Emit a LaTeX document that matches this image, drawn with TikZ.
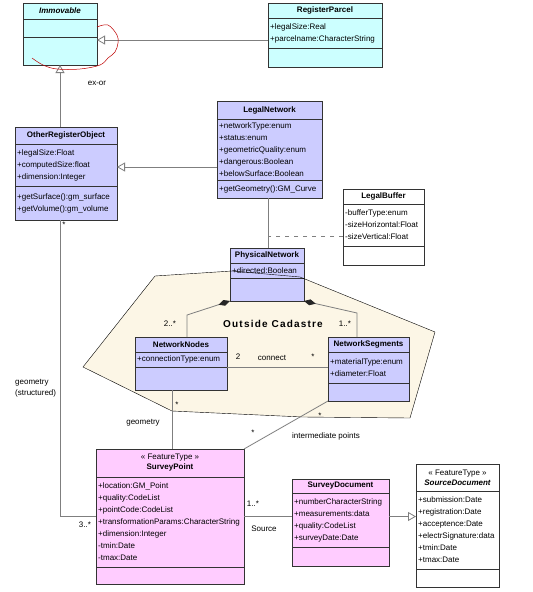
\documentclass[tikz,border=0pt]{standalone}
\usepackage{fontspec}
\setmainfont{Liberation Sans}
\usetikzlibrary{arrows.meta,calc}
\definecolor{cyanbox}{HTML}{CCFFFF}
\definecolor{lavbox}{HTML}{CCCCFF}
\definecolor{pinkbox}{HTML}{FFCCFF}
\definecolor{cream}{HTML}{FCF6E6}
\definecolor{linegray}{HTML}{7F7F7F}

\begin{document}
\begin{tikzpicture}
[x=1pt,y=-1pt,
 cls/.style={draw=black!80,anchor=north west,inner sep=0pt,outer sep=0pt},
 sep/.style={draw=black!80},
 title/.style={font=\fontsize{8}{10}\selectfont\bfseries,inner sep=0pt},
 attr/.style={anchor=west,align=left,inner sep=0pt,font=\fontsize{8}{12}\selectfont},
 lbl/.style={inner sep=0pt,font=\fontsize{8}{11}\selectfont},
 assoc/.style={draw=linegray,line width=0.8pt},
 gen/.style={assoc,-{Triangle[open,length=8pt,width=9pt,fill=white]}},
 comp/.style={assoc,{Diamond[length=12pt,width=6pt,fill=black!85,color=black!85]}-}]
\useasboundingbox (0,0) rectangle (533,592);
\fill[white] (0,0) rectangle (533,592);
% outside cadastre area
\fill[cream] (155,276) -- (232,271) -- (300,277) -- (435,332) -- (410,418)
  -- (303,417) -- (172,411) -- (83,367) -- cycle;
% classes
\node[cls,fill=cyanbox,minimum width=74pt,minimum height=62pt] (immov) at (23,3) {};
\node[cls,fill=cyanbox,minimum width=114pt,minimum height=64pt] (parcel) at (268,3) {};
\node[cls,fill=lavbox,minimum width=102pt,minimum height=93pt] (other) at (15,127) {};
\node[cls,fill=lavbox,minimum width=105pt,minimum height=97pt] (legalnet) at (217,101) {};
\node[cls,fill=white,minimum width=81pt,minimum height=76pt] (buffer) at (343,189) {};
\node[cls,fill=lavbox,minimum width=74pt,minimum height=53pt] (phys) at (230,248) {};
\node[cls,fill=lavbox,minimum width=92pt,minimum height=53pt] (nodes) at (135,337) {};
\node[cls,fill=lavbox,minimum width=81pt,minimum height=64pt] (segs) at (328,337) {};
\node[cls,fill=pinkbox,minimum width=148pt,minimum height=135pt] (survpt) at (96,449) {};
\node[cls,fill=pinkbox,minimum width=97pt,minimum height=87pt] (survdoc) at (292,479) {};
\node[cls,fill=white,minimum width=83pt,minimum height=123pt] (srcdoc) at (416,464) {};
% compartments
\draw[sep] ($(immov.north west)+(0,16)$) -- ($(immov.north east)+(0,16)$);
\draw[sep] ($(immov.north west)+(0,34)$) -- ($(immov.north east)+(0,34)$);
\draw[sep] ($(parcel.north west)+(0,15)$) -- ($(parcel.north east)+(0,15)$);
\draw[sep] ($(parcel.north west)+(0,45)$) -- ($(parcel.north east)+(0,45)$);
\draw[sep] ($(other.north west)+(0,17)$) -- ($(other.north east)+(0,17)$);
\draw[sep] ($(other.north west)+(0,59)$) -- ($(other.north east)+(0,59)$);
\draw[sep] ($(legalnet.north west)+(0,18)$) -- ($(legalnet.north east)+(0,18)$);
\draw[sep] ($(legalnet.north west)+(0,79)$) -- ($(legalnet.north east)+(0,79)$);
\draw[sep] ($(buffer.north west)+(0,15)$) -- ($(buffer.north east)+(0,15)$);
\draw[sep] ($(buffer.north west)+(0,57)$) -- ($(buffer.north east)+(0,57)$);
\draw[sep] ($(phys.north west)+(0,15)$) -- ($(phys.north east)+(0,15)$);
\draw[sep] ($(phys.north west)+(0,30)$) -- ($(phys.north east)+(0,30)$);
\draw[sep] ($(nodes.north west)+(0,15)$) -- ($(nodes.north east)+(0,15)$);
\draw[sep] ($(nodes.north west)+(0,30)$) -- ($(nodes.north east)+(0,30)$);
\draw[sep] ($(segs.north west)+(0,15)$) -- ($(segs.north east)+(0,15)$);
\draw[sep] ($(segs.north west)+(0,46)$) -- ($(segs.north east)+(0,46)$);
\draw[sep] ($(survpt.north west)+(0,28)$) -- ($(survpt.north east)+(0,28)$);
\draw[sep] ($(survpt.north west)+(0,118)$) -- ($(survpt.north east)+(0,118)$);
\draw[sep] ($(survdoc.north west)+(0,14)$) -- ($(survdoc.north east)+(0,14)$);
\draw[sep] ($(survdoc.north west)+(0,68)$) -- ($(survdoc.north east)+(0,68)$);
\draw[sep] ($(srcdoc.north west)+(0,27)$) -- ($(srcdoc.north east)+(0,27)$);
\draw[sep] ($(srcdoc.north west)+(0,105)$) -- ($(srcdoc.north east)+(0,105)$);
% names
\node[title] at ($(immov.north)+(0,8)$) {\itshape Immovable};
\node[title] at ($(parcel.north)+(0,7.5)$) {RegisterParcel};
\node[title] at ($(other.north)+(0,8.5)$) {OtherRegisterObject};
\node[title] at ($(legalnet.north)+(0,9)$) {LegalNetwork};
\node[title] at ($(buffer.north)+(0,7.5)$) {LegalBuffer};
\node[title] at ($(phys.north)+(0,7.5)$) {PhysicalNetwork};
\node[title] at ($(nodes.north)+(0,7.5)$) {NetworkNodes};
\node[title] at ($(segs.north)+(0,7.5)$) {NetworkSegments};
\node[title,align=center] at ($(survpt.north)+(0,14)$) {\mdseries\guillemotleft\ FeatureType \guillemotright\\SurveyPoint};
\node[title] at ($(survdoc.north)+(0,7)$) {SurveyDocument};
\node[title,align=center] at ($(srcdoc.north)+(0,13.5)$) {\mdseries\guillemotleft\ FeatureType \guillemotright\\\itshape SourceDocument};
% attributes and operations
\node[attr] at ($(parcel.north west)+(2,30)$) {+legalSize:Real\\+parcelname:CharacterString};
\node[attr] at ($(other.north west)+(2,38)$) {+legalSize:Float\\+computedSize:float\\+dimension:Integer};
\node[attr] at ($(other.north west)+(2,76)$) {+getSurface():gm\_surface\\+getVolume():gm\_volume};
\node[attr] at ($(legalnet.north west)+(2,48.5)$) {+networkType:enum\\+status:enum\\+geometricQuality:enum\\+dangerous:Boolean\\+belowSurface:Boolean};
\node[attr] at ($(legalnet.north west)+(2,88)$) {+getGeometry():GM\_Curve};
\node[attr] at ($(buffer.north west)+(2,36)$) {-bufferType:enum\\-sizeHorizontal:Float\\-sizeVertical:Float};
\node[attr] at ($(phys.north west)+(2,22.5)$) {+directed:Boolean};
\node[attr] at ($(nodes.north west)+(2,22.5)$) {+connectionType:enum};
\node[attr] at ($(segs.north west)+(2,30.5)$) {+materialType:enum\\+diameter:Float};
\node[attr] at ($(survpt.north west)+(2,73)$) {+location:GM\_Point\\+quality:CodeList\\+pointCode:CodeList\\+transformationParams:CharacterString\\+dimension:Integer\\-tmin:Date\\-tmax:Date};
\node[attr] at ($(survdoc.north west)+(2,41)$) {+numberCharacterString\\+measurements:data\\+quality:CodeList\\+surveyDate:Date};
\node[attr] at ($(srcdoc.north west)+(2,66)$) {+submission:Date\\+registration:Date\\+acceptence:Date\\+electrSignature:data\\+tmin:Date\\+tmax:Date};
% outline of the area, over the classes
\draw[black] (155,276) -- (232,271) -- (300,277) -- (435,332) -- (410,418)
  -- (303,417) -- (172,411) -- (83,367) -- cycle;
% connectors
\draw[gen] ([yshift=-5pt]parcel.west) -- ([yshift=-5pt]parcel.west -| immov.east);
\draw[gen] (other.north -| immov.south) -- (immov.south);
\draw[gen] ([yshift=-17.5pt]legalnet.west) -- ([yshift=-17.5pt]legalnet.west -| other.east);
\draw[assoc] ([xshift=-1.5pt]legalnet.south) -- ([xshift=-1.5pt]legalnet.south |- phys.north);
\draw[assoc,dash pattern=on 4pt off 5pt] ([yshift=-9.5pt]buffer.west) -- ([yshift=-9.5pt,xshift=-1.5pt]buffer.west -| legalnet.south);
\draw[comp] (phys.south west) -- ($(nodes.north)+(6,-22)$) -- ([xshift=6pt]nodes.north);
\draw[comp] (phys.south east) -- ($(segs.north)+(-11.5,-24)$) -- ([xshift=-11.5pt]segs.north);
\draw[assoc] ([yshift=-3.5pt]nodes.east) -- ([yshift=-3.5pt]nodes.east -| segs.west);
\draw[assoc] ([xshift=-9pt]nodes.south) -- ([xshift=-9pt]nodes.south |- survpt.north);
\draw[assoc] (segs.south west) -- (survpt.north east);
\draw[assoc] (other.south -| immov.south) |- (survpt.west);
\draw[assoc] (survpt.east) -- (survpt.east -| survdoc.west);
\draw[gen] (survpt.east -| survdoc.east) -- (survpt.east -| srcdoc.west);
% red mark
\draw[red!75!black,line width=0.5pt] plot[smooth,tension=0.6] coordinates {(97,27) (108,25) (117,35) (118,43)
  (115,52) (108,58) (100,65) (80,69) (57,69) (43,65) (32,58)};
% labels
\node[lbl] (exor) at (97,83) {ex-or};
\node[lbl] (m1) at (64,225) {*};
\node[lbl,anchor=west,align=left] (geo1) at (15,388) {geometry\\(structured)};
\node[lbl] (m2) at (85,525) {3..*};
\node[lbl] (m3) at (170,324) {2..*};
\node[lbl] (m4) at (345,324) {1..*};
\node[lbl,font=\fontsize{10}{12}\selectfont\bfseries\addfontfeature{LetterSpace=12}] (area) at (273,324) {Outside Cadastre};
\node[lbl] (m5) at (238,357) {2};
\node[lbl] (conn) at (272,358) {connect};
\node[lbl] (m6) at (313,357) {*};
\node[lbl] (m7) at (177,405) {*};
\node[lbl] (geo2) at (143,423) {geometry};
\node[lbl] (m8) at (320,416) {*};
\node[lbl] (m9) at (253,433) {*};
\node[lbl] (inter) at (326,436) {intermediate points};
\node[lbl] (m10) at (253,504) {1..*};
\node[lbl] (src) at (264,529) {Source};
\end{tikzpicture}
\end{document}
